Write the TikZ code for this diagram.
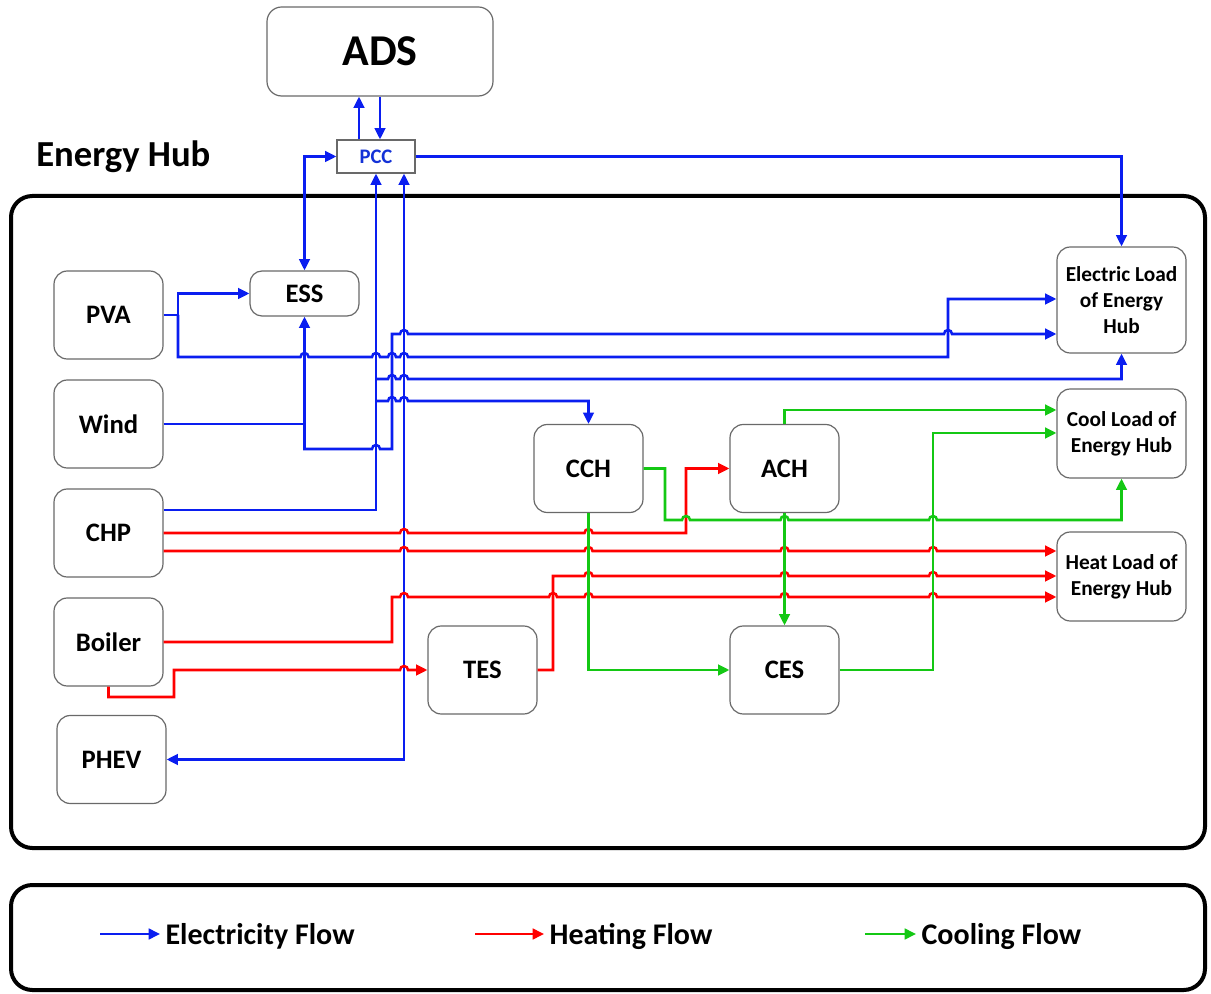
\documentclass[tikz,border=0pt]{standalone}
\usepackage{fontspec}
\setmainfont{Carlito}
\usetikzlibrary{arrows.meta,positioning,calc}
\definecolor{FlowBlue}{RGB}{10,30,240}
\definecolor{FlowRed}{RGB}{255,0,0}
\definecolor{FlowGreen}{RGB}{20,200,20}
\definecolor{PccBlue}{RGB}{20,50,215}
\definecolor{BoxGray}{RGB}{105,105,105}
\newcommand{\hop}[2]{-- ({#1-4},#2) arc[start angle=180,end angle=360,radius=4]}

\begin{document}
\begin{tikzpicture}[x=0.75pt,y=-0.75pt,>={Triangle[length=8.5pt,width=8pt]},
 blk/.style={draw=BoxGray,line width=0.9pt,rounded corners=10pt,fill=white,
  minimum width=81.75pt,minimum height=66pt,inner sep=0pt,
  font=\fontsize{20}{24}\selectfont\bfseries},
 load/.style={blk,minimum width=96.75pt,minimum height=66.75pt,align=center,
  font=\fontsize{16}{19.5}\selectfont\bfseries},
 flow/.style={line width=1.9pt,->},
 elec/.style={flow,draw=FlowBlue},
 heat/.style={flow,draw=FlowRed},
 cool/.style={flow,draw=FlowGreen},
 legend/.style={anchor=west,inner sep=4pt,text depth=0pt,
  font=\fontsize{22.5}{26}\selectfont\bfseries}]
\fill[white] (0,0) rectangle (1211,994);
\draw[line width=3pt,rounded corners=16pt] (11,196) rectangle (1205,848);
\draw[line width=3pt,rounded corners=16pt] (11,885) rectangle (1205,990);
\node[anchor=base west,inner sep=0pt,font=\fontsize{27.5}{32}\selectfont\bfseries] (hub) at (36,167) {Energy Hub};

\node[blk,minimum width=169.5pt,minimum height=66.75pt,rounded corners=11pt,
 font=\fontsize{33}{38}\selectfont\bfseries] (ADS) at (380,51.5) {ADS};
\node[draw=BoxGray,line width=0.9pt,minimum width=58.5pt,minimum height=24.75pt,inner sep=0pt,
 text=PccBlue,font=\fontsize{15.5}{18}\selectfont\bfseries] (PCC) at (376,156.5) {PCC};
\foreach \name/\px/\py in {PVA/108.5/315,Wind/108.5/424,CHP/108.5/533,Boiler/108.5/642,
 PHEV/111.5/759.5,CCH/588.5/468.5,ACH/784.5/468.5,TES/482.5/670,CES/784.5/670}
 \node[blk] (\name) at (\px,\py) {\name};
\node[blk,minimum height=33.75pt,rounded corners=9pt] (ESS) at (304.5,293.5) {ESS};
\node[load,minimum height=79.5pt] (ElecLoad) at (1121.5,300) {Electric Load\\of Energy\\Hub};
\node[load] (CoolLoad) at (1121.5,433.5) {Cool Load of\\Energy Hub};
\node[load] (HeatLoad) at (1121.5,576.5) {Heat Load of\\Energy Hub};

\draw[elec] (PCC.north -| 359,0) -- (ADS.south -| 359,0);
\draw[elec] (ADS.south -| 380,0) -- (PCC.north -| 380,0);
\draw[elec] (PCC.east) -| (ElecLoad.north);
\draw[elec,<->] (ESS.north) |- (PCC.west);
\draw[elec] (CHP.east |- 0,510) -| (PCC.south);
\draw[elec,<->] (PCC.south -| 404,0) |- (PHEV.east);
\draw[elec] (PVA.east) -- (178,315) |- (ESS.west);
\draw[elec] (178,315) -- (178,357) \hop{304.5}{357} \hop{376}{357} \hop{392}{357} \hop{404}{357}
 -- (948,357) |- (ElecLoad.west |- 0,299);
\draw[elec] (Wind.east) -| (ESS.south);
\draw[elec] (304.5,424) -- (304.5,449) \hop{376}{449} -- (392,449) -- (392,334)
 \hop{404}{334} \hop{948}{334} -- (ElecLoad.west |- 0,334);
\draw[elec] (376,379) \hop{392}{379} \hop{404}{379} -| (ElecLoad.south);
\draw[elec] (376,401) \hop{392}{401} \hop{404}{401} -| (CCH.north);

\draw[heat] (CHP.east) \hop{404}{533} \hop{588.5}{533} -- (686,533) |- (ACH.west);
\draw[heat] (CHP.east |- 0,551) \hop{404}{551} \hop{588.5}{551} \hop{784.5}{551} \hop{933}{551}
 -- (HeatLoad.west |- 0,551);
\draw[heat] (Boiler.east) -- (392,642) -- (392,597) \hop{404}{597} \hop{553}{597} \hop{588.5}{597}
 \hop{784.5}{597} \hop{933}{597} -- (HeatLoad.west |- 0,597);
\draw[heat] (Boiler.south) -- (108.5,697) -- (174,697) -- (174,670) \hop{404}{670} -- (TES.west);
\draw[heat] (TES.east) -- (553,670) -- (553,576) \hop{588.5}{576} \hop{784.5}{576} \hop{933}{576}
 -- (HeatLoad.west |- 0,576);

\draw[cool] (CCH.east) -- (665,468.5) -- (665,520) \hop{686}{520} \hop{784.5}{520} \hop{933}{520}
 -| (CoolLoad.south);
\draw[cool] (CCH.south) |- (CES.west);
\draw[cool] (ACH.north) |- (CoolLoad.west |- 0,410);
\draw[cool] (ACH.south) -- (CES.north);
\draw[cool] (CES.east) -- (933,670) |- (CoolLoad.west |- 0,433);

\foreach \fl/\xa/\xt/\txt in {elec/100/165/Electricity Flow,heat/475/549/Heating Flow,
 cool/865/921/Cooling Flow}{
 \node[legend] (lg\fl) at ({\xt-5},934) {\txt};
 \draw[\fl] (\xa,934) -- (lg\fl.west);
}
\end{tikzpicture}
\end{document}
